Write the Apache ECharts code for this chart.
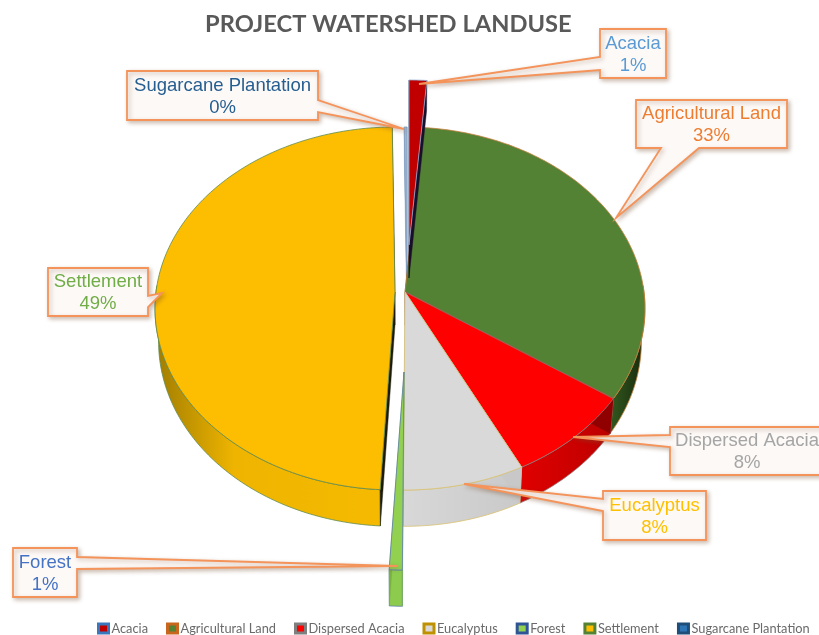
<!DOCTYPE html>
<html><head><meta charset="utf-8">
<style>html,body{margin:0;padding:0;background:#fff}#c{width:819px;height:635px;filter:blur(0.35px)}</style>
<script src="https://cdn.jsdelivr.net/npm/echarts@6/dist/echarts.min.js"></script>
</head><body><div id="c"></div>
<script>
// ---- data ----
const categories = ['Acacia','Agricultural Land','Dispersed Acacia','Eucalyptus','Forest','Settlement','Sugarcane Plantation'];
const shares = [1.3, 33.2, 8.1, 7.5, 0.8, 48.9, 0.2];
const chartTitle = 'PROJECT WATERSHED LANDUSE';

// ---- styles and layout ----
const topColors = ['#c00000','#548235','#ff0000','#d9d9d9','#92d050','#fdbd00','#9fb6d2'];
const legendFills = ['#c00000','#548235','#ff0000','#d9d9d9','#92d050','#fdbd00','#2e75b6'];
const edgeColors = ['#8fb0d8','#c8803c','#8a7a7a','#d8c070','#5f80b0','#5f8a50','#7f9cc0'];
const wallStops = [
  ['#c00000','#c00000'],['#33591f','#16290c'],['#e00000','#bc0000'],['#d8d8d8','#c9c9c9'],
  ['#8ccb4e','#8ccb4e'],['#a07c00','#f5ba00'],['#7f9cc0','#7f9cc0']];
const faceColors = ['#1a0f2a','#2a4018','#900000','#c8c8c8','#7ab040','#1d1a08','#7f9cc0'];
const legendBorders = ['#3a78bd','#c8661e','#7f7f7f','#bf9000','#2f5597','#548235','#1f4e79'];
const labelColors = ['#5b9bd5','#ed7d31','#a5a5a5','#ffc000','#4472c4','#70ad47','#255e91'];
const explode = [[4,-47],[0,0],[0,0],[0,0],[-1,80],[-10,0],[2,0]];
const drawOrder = [5,6,1,2,3,4,0];
const CX=405, CY=292, RX=239, RY=180, P=0.0909, DEPTH=33;
const callouts = [
  {box:[600,29,66,49],  side:'left',  base:[57,70],  tip:[419,84]},
  {box:[636,100,151,48],side:'bottom',base:[661,699],tip:[616,218]},
  {box:[670,427,165,48],side:'left',  base:[435,447],tip:[573,437],tx:747},
  {box:[603,491,103,49],side:'left',  base:[499,511],tip:[464,484]},
  {box:[13,548,64,49],  side:'right', base:[557,569],tip:[397,566]},
  {box:[48,268,100,48], side:'right', base:[296,307],tip:[162,293]},
  {box:[127,71,191,49], side:'right', base:[100,112],tip:[404,129]}
];

const total = shares.reduce((a,b)=>a+b,0);
const starts = []; shares.reduce((a,v,i)=>{starts[i]=a; return a+v/total*360;},0);

function rimPoint(i,deg,low){
  const t=deg*Math.PI/180,u=Math.sin(t),v=-Math.cos(t),den=1-P*v;
  const x0=CX+explode[i][0],y0=CY+explode[i][1];
  const x=RX*u/den,y=RY*v/den;
  return low?[x0+x*0.985,y0+y+DEPTH/den]:[x0+x,y0+y];
}
function arc(i,a,b,low){const n=Math.max(2,Math.ceil((b-a)/1));const o=[];
  for(let k=0;k<=n;k++)o.push(rimPoint(i,a+(b-a)*k/n,low));return o;}

function sliceRender(i){
  return function(){
    const a=starts[i],b=a+shares[i]/total*360;
    const x0=CX+explode[i][0],y0=CY+explode[i][1];
    const apex=[x0,y0],apexLow=[x0,y0+DEPTH];
    const kids=[];
    const thin={stroke:edgeColors[i],lineWidth:0.8};
    const wa=Math.max(a,88),wb=Math.min(b,272);
    if(wb>wa){
      kids.push({type:'polygon',shape:{points:arc(i,wa,wb,false).concat(arc(i,wa,wb,true).reverse())},
        style:Object.assign({fill:new echarts.graphic.LinearGradient(0,0,1,0,[
          {offset:0,color:wallStops[i][0]},{offset:i===5?0.35:1,color:i===5?'#eeb400':wallStops[i][1]},{offset:1,color:wallStops[i][1]}])},thin)});
    }
    [a,b].forEach(function(d){
      kids.push({type:'polygon',shape:{points:[apex,rimPoint(i,d,false),rimPoint(i,d,true),apexLow]},
        style:{fill:faceColors[i],stroke:faceColors[i],lineWidth:0.4}});
    });
    kids.push({type:'polygon',shape:{points:[apex].concat(arc(i,a,b,false))},
      style:Object.assign({fill:topColors[i]},thin)});
    return {type:'group',children:kids};
  };
}

const series = categories.map(function(name,i){
  return {type:'custom',name:name,coordinateSystem:'none',data:[shares[i]],silent:true,
    z:2+drawOrder.indexOf(i),animation:false,renderItem:sliceRender(i),
    itemStyle:{color:topColors[i]}};
});

function calloutPoints(c){
  const [x,y,w,h]=c.box,[b1,b2]=c.base,t=c.tip;
  if(c.side==='left')  return [[x,y],[x+w,y],[x+w,y+h],[x,y+h],[x,b2],t,[x,b1]];
  if(c.side==='right') return [[x,y],[x+w,y],[x+w,b1],t,[x+w,b2],[x+w,y+h],[x,y+h]];
  return [[x,y],[x+w,y],[x+w,y+h],[b2,y+h],t,[b1,y+h],[x,y+h]];
}
const graphics=[];
callouts.forEach(function(c,i){
  graphics.push({type:'polygon',z:50,silent:true,shape:{points:calloutPoints(c)},
    style:{fill:'#fdf9f7',stroke:'#f4935a',lineWidth:1.8,shadowBlur:4,shadowOffsetX:2,shadowOffsetY:2,shadowColor:'rgba(120,80,50,0.35)'}});
  graphics.push({type:'text',z:51,silent:true,
    x:c.tx||c.box[0]+c.box[2]/2,y:c.box[1]+c.box[3]/2+1,
    style:{text:categories[i]+'\n'+Math.round(shares[i])+'%',fill:labelColors[i],
      font:'18.5px "Liberation Sans"',lineHeight:22,align:'center',verticalAlign:'middle'}});
});

const chart=echarts.init(document.getElementById('c'),null,{renderer:'canvas'});
chart.setOption({
  animation:false,
  backgroundColor:'#fff',
  title:{text:chartTitle,left:205,top:12,padding:0,
    textStyle:{fontFamily:'Lato',fontWeight:'bold',fontSize:23.7,color:'#595959'}},
  legend:{left:97,top:622,padding:0,icon:'rect',itemWidth:10,itemHeight:9,itemGap:18,selectedMode:false,
    textStyle:{fontFamily:'Lato',fontSize:12.8,color:'#6a6a6a',padding:[0,0,0,-2]},
    data:categories.map(function(n,i){return {name:n,itemStyle:{color:legendFills[i],borderColor:legendBorders[i],borderWidth:3}};})},
  graphic:graphics,
  series:series
});
</script></body></html>
